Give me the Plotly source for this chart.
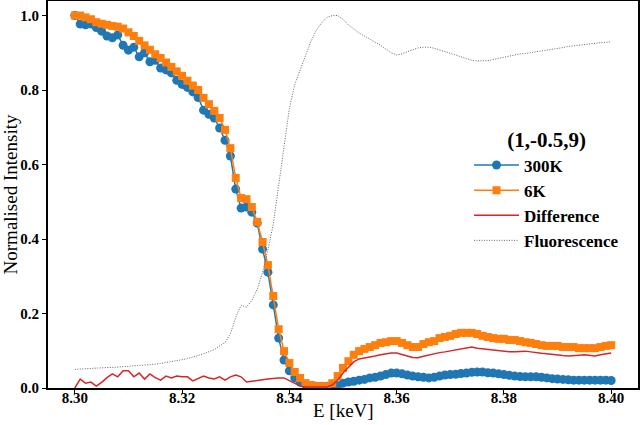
import plotly.graph_objects as go

# Energy grid (keV), 0.001 keV steps from 8.300 to 8.400
energy = [round(8.300 + 0.001 * i, 3) for i in range(101)]

i_300k = [
    1.000, 0.977, 0.975, 0.977, 0.968, 0.958, 0.945, 0.940, 0.948, 0.920,
    0.907, 0.915, 0.889, 0.900, 0.876, 0.880, 0.859, 0.854, 0.846, 0.826,
    0.815, 0.807, 0.795, 0.780, 0.746, 0.735, 0.725, 0.698, 0.665, 0.623,
    0.534, 0.483, 0.486, 0.472, 0.443, 0.373, 0.311, 0.223, 0.134, 0.075,
    0.046, 0.027, 0.016, 0.010, 0.007, 0.005, 0.005, 0.005, 0.005, 0.006,
    0.013, 0.016, 0.018, 0.021, 0.023, 0.027, 0.029, 0.032, 0.036, 0.040,
    0.040, 0.038, 0.035, 0.032, 0.030, 0.029, 0.027, 0.029, 0.032, 0.035,
    0.036, 0.037, 0.039, 0.040, 0.042, 0.043, 0.043, 0.041, 0.040, 0.038,
    0.036, 0.034, 0.032, 0.031, 0.030, 0.030, 0.030, 0.029, 0.027, 0.025,
    0.024, 0.023, 0.022, 0.021, 0.021, 0.021, 0.021, 0.021, 0.021, 0.021,
    0.020,
]

i_6k = [
    1.000, 1.000, 0.995, 0.990, 0.982, 0.978, 0.975, 0.972, 0.970, 0.965,
    0.955, 0.945, 0.932, 0.920, 0.908, 0.896, 0.886, 0.874, 0.862, 0.850,
    0.838, 0.825, 0.812, 0.800, 0.779, 0.762, 0.744, 0.725, 0.693, 0.644,
    0.564, 0.510, 0.507, 0.486, 0.446, 0.392, 0.330, 0.247, 0.158, 0.099,
    0.067, 0.043, 0.027, 0.013, 0.008, 0.005, 0.005, 0.005, 0.013, 0.032,
    0.054, 0.072, 0.089, 0.099, 0.105, 0.110, 0.115, 0.121, 0.123, 0.126,
    0.126, 0.121, 0.115, 0.110, 0.110, 0.118, 0.123, 0.126, 0.134, 0.137,
    0.140, 0.145, 0.148, 0.148, 0.148, 0.145, 0.140, 0.137, 0.134, 0.132,
    0.132, 0.129, 0.129, 0.126, 0.123, 0.121, 0.118, 0.115, 0.113, 0.113,
    0.113, 0.110, 0.110, 0.110, 0.107, 0.107, 0.107, 0.107, 0.110, 0.113,
    0.115,
]

difference = [
    0.000, 0.024, 0.013, 0.016, 0.005, 0.015, 0.028, 0.038, 0.030, 0.046,
    0.046, 0.030, 0.040, 0.024, 0.038, 0.028, 0.021, 0.032, 0.027, 0.032,
    0.030, 0.030, 0.019, 0.025, 0.032, 0.027, 0.024, 0.030, 0.021, 0.030,
    0.035, 0.030, 0.016, 0.018, 0.021, 0.022, 0.024, 0.026, 0.027, 0.027,
    0.019, 0.011, 0.005, 0.003, 0.003, 0.003, 0.003, 0.003, 0.008, 0.021,
    0.040, 0.056, 0.070, 0.078, 0.080, 0.083, 0.086, 0.089, 0.092, 0.094,
    0.094, 0.089, 0.086, 0.082, 0.081, 0.085, 0.089, 0.092, 0.095, 0.097,
    0.100, 0.103, 0.106, 0.108, 0.110, 0.107, 0.105, 0.104, 0.102, 0.100,
    0.097, 0.097, 0.097, 0.098, 0.099, 0.097, 0.094, 0.093, 0.092, 0.091,
    0.090, 0.087, 0.086, 0.086, 0.088, 0.089, 0.087, 0.086, 0.089, 0.091,
    0.094,
]

fluorescence = [
    0.050, 0.051, 0.052, 0.052, 0.053, 0.054, 0.055, 0.055, 0.056, 0.057,
    0.058, 0.059, 0.060, 0.061, 0.062, 0.064, 0.066, 0.068, 0.070, 0.073,
    0.076, 0.079, 0.082, 0.087, 0.092, 0.097, 0.103, 0.113, 0.122, 0.145,
    0.190, 0.222, 0.217, 0.235, 0.265, 0.310, 0.370, 0.440, 0.540, 0.650,
    0.750, 0.815, 0.855, 0.895, 0.930, 0.960, 0.980, 0.995, 1.000, 1.000,
    0.990, 0.975, 0.963, 0.953, 0.945, 0.937, 0.930, 0.920, 0.910, 0.900,
    0.894, 0.897, 0.903, 0.908, 0.913, 0.915, 0.915, 0.912, 0.908, 0.903,
    0.898, 0.894, 0.889, 0.884, 0.880, 0.878, 0.878, 0.879, 0.882, 0.885,
    0.889, 0.892, 0.895, 0.897, 0.898, 0.900, 0.902, 0.904, 0.907, 0.909,
    0.912, 0.914, 0.917, 0.919, 0.921, 0.923, 0.925, 0.926, 0.927, 0.928,
    0.929,
]

x_ticks = [8.30, 8.32, 8.34, 8.36, 8.38, 8.40]
x_tick_labels = ["8.30", "8.32", "8.34", "8.36", "8.38", "8.40"]
y_ticks = [0.0, 0.2, 0.4, 0.6, 0.8, 1.0]
y_tick_labels = ["0.0", "0.2", "0.4", "0.6", "0.8", "1.0"]

SERIF = "Liberation Serif"

fig = go.Figure()
fig.add_trace(go.Scatter(
    x=energy, y=i_300k, name="300K", mode="lines+markers",
    line=dict(color="#1f77b4", width=1.5),
    marker=dict(symbol="circle", size=9, color="#1f77b4"),
))
fig.add_trace(go.Scatter(
    x=energy, y=i_6k, name="6K", mode="lines+markers",
    line=dict(color="#ff7f0e", width=1.5),
    marker=dict(symbol="square", size=8, color="#ff7f0e"),
))
fig.add_trace(go.Scatter(
    x=energy, y=difference, name="Difference", mode="lines",
    line=dict(color="#d62728", width=1.5),
))
fig.add_trace(go.Scatter(
    x=energy, y=fluorescence, name="Fluorescence", mode="lines",
    line=dict(color="#666666", width=1, dash="1px,1.5px"),
))

axis_common = dict(
    showline=True, linecolor="black", linewidth=2, mirror=True,
    ticks="outside", ticklen=4, tickwidth=1.2, tickcolor="black",
    showgrid=False, zeroline=False, automargin=False,
    tickfont=dict(family=SERIF, size=15, color="black", weight="bold"),
)

fig.update_layout(
    width=640, height=425,
    margin=dict(l=48, r=2, t=1, b=37),
    paper_bgcolor="white", plot_bgcolor="white",
    xaxis=dict(
        range=[8.295, 8.405], tickvals=x_ticks, ticktext=x_tick_labels,
        ticklabelstandoff=-9,
        **axis_common,
    ),
    yaxis=dict(
        range=[0, 1.039], tickvals=y_ticks, ticktext=y_tick_labels,
        title=dict(text="Normalised Intensity", font=dict(family=SERIF, size=19, color="black"), standoff=4),
        **axis_common,
    ),
    annotations=[dict(
        text="E [keV]", xref="paper", yref="paper", x=0.5, y=-0.0594,
        xanchor="center", yanchor="middle", showarrow=False,
        font=dict(family=SERIF, size=19, color="black"),
    )],
    legend=dict(
        x=0.7136, y=0.692, xanchor="left", yanchor="top",
        bgcolor="rgba(0,0,0,0)", itemwidth=45,
        font=dict(family=SERIF, size=17, color="black", weight="bold"),
        title=dict(text="(1,-0.5,9)", side="top center",
                   font=dict(family=SERIF, size=21, color="black", weight="bold")),
    ),
    showlegend=True,
)

fig.write_html("out.html")
